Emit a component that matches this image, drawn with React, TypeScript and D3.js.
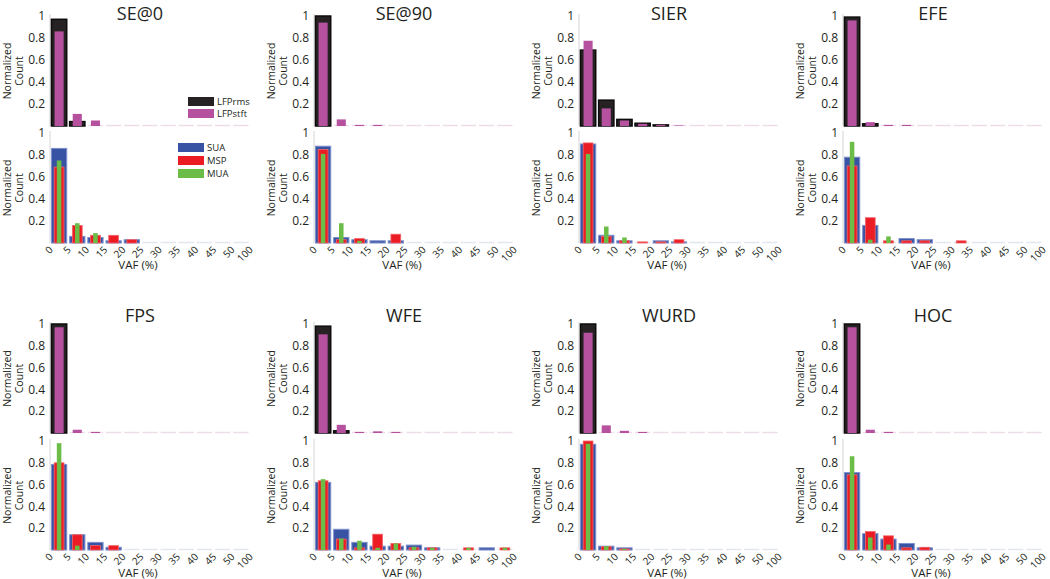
import React from "react";
import * as d3 from "d3";

const categories = ["SE@0", "SE@90", "SIER", "EFE", "FPS", "WFE", "WURD", "HOC"];
const tickLabels = ["0", "5", "10", "15", "20", "25", "30", "35", "40", "45", "50", "100"];
const yTicks = [0.2, 0.4, 0.6, 0.8, 1];

const lfpRms = [
  [0.97, 0.04, 0, 0, 0, 0, 0, 0, 0, 0, 0],
  [1.0, 0, 0, 0, 0, 0, 0, 0, 0, 0, 0],
  [0.69, 0.235, 0.06, 0.025, 0.01, 0, 0, 0, 0, 0, 0],
  [0.99, 0.02, 0, 0, 0, 0, 0, 0, 0, 0, 0],
  [1.0, 0, 0, 0, 0, 0, 0, 0, 0, 0, 0],
  [0.98, 0.02, 0, 0, 0, 0, 0, 0, 0, 0, 0],
  [1.0, 0, 0, 0, 0, 0, 0, 0, 0, 0, 0],
  [1.0, 0, 0, 0, 0, 0, 0, 0, 0, 0, 0],
];
const lfpStft = [
  [0.86, 0.11, 0.05, 0, 0, 0, 0, 0, 0, 0, 0],
  [0.94, 0.06, 0.01, 0.01, 0, 0, 0, 0, 0, 0, 0],
  [0.775, 0.16, 0.05, 0.02, 0.01, 0.005, 0, 0, 0, 0, 0],
  [0.96, 0.035, 0.01, 0.01, 0, 0, 0, 0, 0, 0, 0],
  [0.97, 0.03, 0.01, 0, 0, 0, 0, 0, 0, 0, 0],
  [0.905, 0.075, 0.01, 0.015, 0.01, 0, 0, 0, 0, 0, 0],
  [0.92, 0.07, 0.02, 0.01, 0, 0, 0, 0, 0, 0, 0],
  [0.97, 0.03, 0.01, 0, 0, 0, 0, 0, 0, 0, 0],
];
const sua = [
  [0.86, 0.06, 0.05, 0.02, 0.03, 0, 0, 0, 0, 0, 0],
  [0.88, 0.05, 0.03, 0.02, 0.02, 0, 0, 0, 0, 0, 0],
  [0.9, 0.07, 0.02, 0, 0.02, 0.01, 0, 0, 0, 0, 0],
  [0.78, 0.16, 0, 0.04, 0.03, 0, 0, 0, 0, 0, 0],
  [0.785, 0.14, 0.07, 0.025, 0, 0, 0, 0, 0, 0, 0],
  [0.62, 0.19, 0.07, 0.035, 0.035, 0.045, 0.02, 0, 0, 0.02, 0],
  [0.97, 0.035, 0.02, 0, 0, 0, 0, 0, 0, 0, 0],
  [0.71, 0.15, 0.1, 0.06, 0.02, 0, 0, 0, 0, 0, 0],
];
const msp = [
  [0.69, 0.16, 0.07, 0.07, 0.03, 0, 0, 0, 0, 0, 0],
  [0.85, 0.03, 0.04, 0, 0.08, 0, 0, 0, 0, 0, 0],
  [0.91, 0.06, 0.02, 0.01, 0.01, 0.03, 0, 0, 0, 0, 0],
  [0.7, 0.23, 0.02, 0.02, 0.02, 0, 0.02, 0, 0, 0, 0],
  [0.8, 0.14, 0.04, 0.04, 0, 0, 0, 0, 0, 0, 0],
  [0.635, 0.1, 0.02, 0.145, 0.06, 0.02, 0.02, 0, 0.02, 0, 0.02],
  [1.0, 0.03, 0.01, 0, 0, 0, 0, 0, 0, 0, 0],
  [0.69, 0.17, 0.13, 0.02, 0.025, 0, 0, 0, 0, 0, 0],
];
const mua = [
  [0.75, 0.18, 0.09, 0, 0, 0, 0, 0, 0, 0, 0],
  [0.81, 0.18, 0.02, 0, 0, 0, 0, 0, 0, 0, 0],
  [0.81, 0.15, 0.05, 0, 0, 0, 0, 0, 0, 0, 0],
  [0.92, 0.03, 0.06, 0, 0, 0, 0, 0, 0, 0, 0],
  [0.98, 0.04, 0, 0, 0, 0, 0, 0, 0, 0, 0],
  [0.65, 0.105, 0.085, 0.02, 0.06, 0.03, 0.02, 0, 0.02, 0, 0.02],
  [0.975, 0.035, 0.01, 0, 0, 0, 0, 0, 0, 0, 0],
  [0.86, 0.115, 0.05, 0, 0, 0, 0, 0, 0, 0, 0],
];

const FONT = "'Open Sans', 'Noto Sans', sans-serif";
const panelX = [50, 314, 579, 843];
const panelW = 200;
const rows = [
  { top1: 16, top0: 126, bot1: 133, bot0: 243, title: 20, xlab: 269 },
  { top1: 324, top0: 433, bot1: 441, bot0: 550, title: 322, xlab: 577 },
];

const C = {
  rms: "#262223",
  rmsStroke: "#0d0b0c",
  stft: "#b5519f",
  sua: "#3953a4",
  suaStroke: "#7d90cc",
  msp: "#ec1c24",
  mspStroke: "#f2666b",
  mua: "#6bbd47",
};

type Series = { vals: number[]; w: number; fill: string; stroke?: string; sw?: number };

function SubPlot({ x0, y1, y0, series, faint }: { x0: number; y1: number; y0: number; series: Series[]; faint: string }) {
  const x = d3.scaleLinear().domain([0, 11]).range([x0, x0 + panelW]);
  const y = d3.scaleLinear().domain([0, 1]).range([y0, y1]);
  const bw = x(1) - x(0);
  const bins = d3.range(11);
  return (
    <g>
      <line x1={x0} x2={x0} y1={y1 - 2} y2={y0} stroke="#d4d4d4" strokeWidth={1} />
      {bins.map((i) => (
        <line key={"f" + i} x1={x(i + 0.5) - bw * 0.42} x2={x(i + 0.5) + bw * 0.42} y1={y0 - 0.5} y2={y0 - 0.5} stroke={faint} strokeWidth={1.5} />
      ))}
      {series.map((s, si) =>
        s.vals.map((v, i) =>
          v > 0 ? (
            <rect
              key={si + "-" + i}
              x={x(i + 0.5) - (bw * s.w) / 2}
              y={y(v)}
              width={bw * s.w}
              height={y(0) - y(v)}
              fill={s.fill}
              stroke={s.stroke || "none"}
              strokeWidth={s.sw || 0}
            />
          ) : null
        )
      )}
      {yTicks.map((t) => (
        <text key={t} x={x0 - 5} y={y(t)} dy="0.35em" textAnchor="end" fontSize={12} fill="#231f20" fontFamily={FONT}>
          {d3.format("")(t)}
        </text>
      ))}
      <text transform={`translate(${x0 - 39},${(y0 + y1) / 2}) rotate(-90)`} textAnchor="middle" fontSize={10.5} fill="#231f20" fontFamily={FONT}>
        Normalized
      </text>
      <text transform={`translate(${x0 - 27},${(y0 + y1) / 2}) rotate(-90)`} textAnchor="middle" fontSize={10.5} fill="#231f20" fontFamily={FONT}>
        Count
      </text>
    </g>
  );
}

export default function App() {
  return (
    <svg width={1050} height={579} style={{ position: "absolute", left: 0, top: 0, background: "#fff" }}>
      {categories.map((cat, k) => {
        const r = rows[Math.floor(k / 4)];
        const x0 = panelX[k % 4];
        const x = d3.scaleLinear().domain([0, 11]).range([x0, x0 + panelW]);
        const cx = x0 + panelW / 2;
        return (
          <g key={cat}>
            <SubPlot
              x0={x0}
              y1={r.top1}
              y0={r.top0}
              faint="#ecdde8"
              series={[
                { vals: lfpRms[k], w: 0.84, fill: C.rms, stroke: C.rmsStroke, sw: 1.5 },
                { vals: lfpStft[k], w: 0.5, fill: C.stft },
              ]}
            />
            <SubPlot
              x0={x0}
              y1={r.bot1}
              y0={r.bot0}
              faint="#e3e5ef"
              series={[
                { vals: sua[k], w: 0.84, fill: C.sua, stroke: C.suaStroke, sw: 1 },
                { vals: msp[k], w: 0.54, fill: C.msp, stroke: C.mspStroke, sw: 0.8 },
                { vals: mua[k], w: 0.25, fill: C.mua },
              ]}
            />
            {tickLabels.map((t, i) => (
              <text
                key={t}
                transform={`translate(${x(i) + 1},${r.bot0 + 5}) rotate(-45)`}
                textAnchor="end"
                dy="0.35em"
                fontSize={10}
                fill="#231f20"
                fontFamily={FONT}
              >
                {t}
              </text>
            ))}
            <text x={cx - 10} y={r.title} textAnchor="middle" fontSize={18} fill="#231f20" fontFamily={FONT}>
              {cat}
            </text>
            <text x={cx - 12} y={r.xlab} textAnchor="middle" fontSize={11.5} fill="#231f20" fontFamily={FONT}>
              VAF (%)
            </text>
            {k === 0 && (
              <g fontFamily={FONT} fontSize={9.5} fill="#231f20">
                <rect x={x0 + 138} y={r.top1 + 81} width={26} height={9} fill={C.rms} />
                <text x={x0 + 167} y={r.top1 + 89}>LFPrms</text>
                <rect x={x0 + 138} y={r.top1 + 93} width={26} height={9} fill={C.stft} />
                <text x={x0 + 167} y={r.top1 + 101}>LFPstft</text>
                <rect x={x0 + 128} y={r.bot1 + 10} width={26} height={9} fill={C.sua} />
                <text x={x0 + 157} y={r.bot1 + 18}>SUA</text>
                <rect x={x0 + 128} y={r.bot1 + 23} width={26} height={9} fill={C.msp} />
                <text x={x0 + 157} y={r.bot1 + 31}>MSP</text>
                <rect x={x0 + 128} y={r.bot1 + 36} width={26} height={9} fill={C.mua} />
                <text x={x0 + 157} y={r.bot1 + 44}>MUA</text>
              </g>
            )}
          </g>
        );
      })}
    </svg>
  );
}
